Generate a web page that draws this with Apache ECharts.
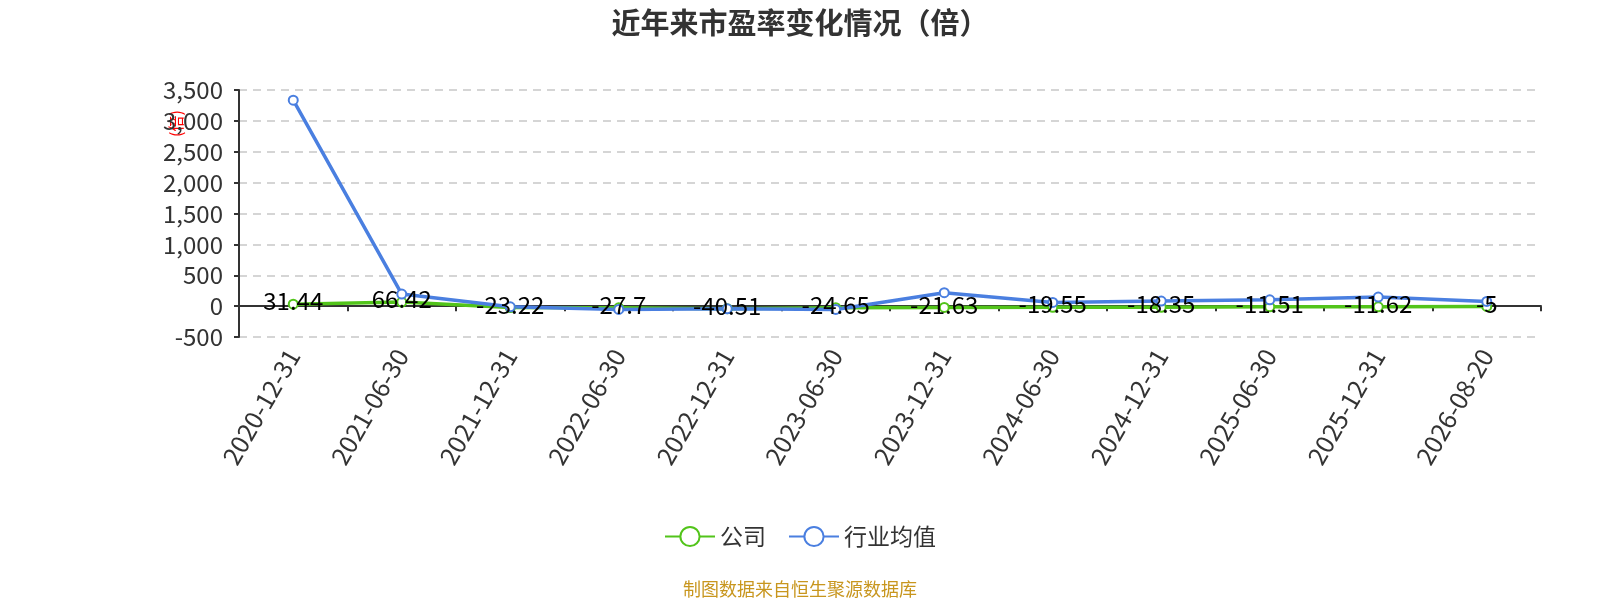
<!DOCTYPE html>
<html>
    <head>
        <meta charset="utf-8">
        <script src="https://cdn.jsdelivr.net/npm/echarts@6.0.0/dist/echarts.min.js"></script>
    </head>
    <body style="margin: 0;">
        <div id="main" style="width: 1600px; height: 600px;"></div>
        <script>
            // 报告期
            var dates = ['2020-12-31', '2021-06-30', '2021-12-31', '2022-06-30', '2022-12-31', '2023-06-30',
                '2023-12-31', '2024-06-30', '2024-12-31', '2025-06-30', '2025-12-31', '2026-08-20'];
            // 公司市盈率
            var companyPE = [31.44, 66.42, -23.22, -27.7, -40.51, -24.65, -21.63, -19.55, -18.35, -11.51, -11.62, -5];
            // 行业均值
            var industryPE = [3336, 195, -11, -54, -44, -54, 218, 60, 81, 103, 146, 76];

            var FONT = '"Noto Sans CJK SC", "Noto Sans", sans-serif';
            var chartDom = document.getElementById('main');
            var myChart = echarts.init(chartDom);
            var option;

            option = {
                textStyle: { fontFamily: FONT },
                title: {
                    text: '近年来市盈率变化情况（倍）',
                    left: 'center',
                    top: 3,
                    textStyle: { fontSize: 29, fontWeight: 'bold', color: '#333', fontFamily: FONT }
                },
                legend: {
                    bottom: 47,
                    left: 'center',
                    itemWidth: 50,
                    itemHeight: 24,
                    itemGap: 22,
                    textStyle: { fontSize: 23, color: '#333', fontFamily: FONT },
                    data: ['公司', '行业均值']
                },
                graphic: [{
                    type: 'text',
                    left: 'center',
                    top: 580,
                    style: {
                        text: '制图数据来自恒生聚源数据库',
                        fill: '#c8961e',
                        fontSize: 18,
                        fontFamily: FONT
                    }
                }],
                grid: {
                    left: 239,
                    right: 59,
                    top: 90,
                    bottom: 263,
                    containLabel: false,
                    outerBoundsMode: 'none'
                },
                xAxis: {
                    type: 'category',
                    data: dates,
                    axisLine: { onZero: true, lineStyle: { color: '#333', width: 2 } },
                    axisTick: { show: true, lineStyle: { color: '#333', width: 2 } },
                    axisLabel: {
                        rotate: 60,
                        fontSize: 25,
                        color: '#333',
                        margin: 14,
                        fontFamily: FONT
                    }
                },
                yAxis: {
                    type: 'value',
                    min: -500,
                    max: 3500,
                    interval: 500,
                    name: '(倍)',
                    nameLocation: 'middle',
                    nameGap: 55,
                    nameMoveOverlap: false,
                    nameTextStyle: { color: '#ff0000', fontSize: 16, padding: [0, 0, 0, 180] },
                    axisLine: { show: true, lineStyle: { color: '#333', width: 2 } },
                    axisTick: { show: true, lineStyle: { color: '#333', width: 2 } },
                    axisLabel: { fontSize: 24, color: '#333', margin: 16, fontFamily: FONT },
                    splitLine: { lineStyle: { type: [8, 6], color: '#c8c8c8', width: 1.5 } }
                },
                series: [{
                    name: '公司',
                    type: 'line',
                    data: companyPE,
                    symbol: 'emptyCircle',
                    symbolSize: 9,
                    color: '#52c41a',
                    lineStyle: { width: 3.5 },
                    label: {
                        show: true,
                        position: 'inside',
                        offset: [0, -3],
                        fontSize: 24,
                        color: '#000',
                        fontFamily: FONT
                    }
                }, {
                    name: '行业均值',
                    type: 'line',
                    data: industryPE,
                    symbol: 'emptyCircle',
                    symbolSize: 9,
                    color: '#4a7fe0',
                    lineStyle: { width: 3.5 }
                }]
            };

            option && myChart.setOption(option);
        </script>
    </body>
</html>
